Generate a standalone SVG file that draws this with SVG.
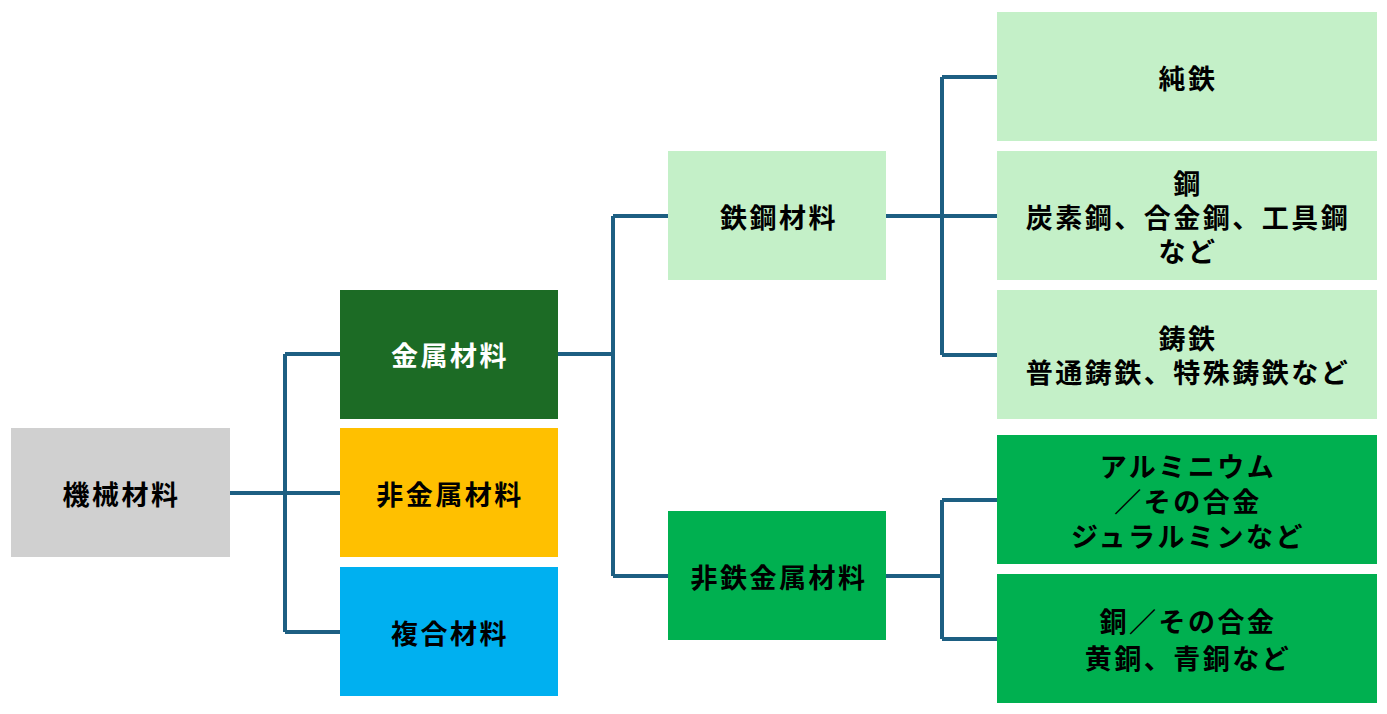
<svg xmlns="http://www.w3.org/2000/svg" width="1387" height="714" viewBox="0 0 1387 714">
<style>
text{font-family:"Noto Sans CJK JP","Noto Sans CJK SC",sans-serif;font-weight:bold;font-size:27px;text-anchor:middle;dominant-baseline:central;fill:#000;letter-spacing:2.5px}
.w{fill:#fff}
.c{fill:none;stroke:#1d5f82;stroke-width:4}
</style>
<rect width="1387" height="714" fill="#fff"/>
<g id="connectors">
<path class="c" d="M230 493H285M285 354V632M285 354H340M285 493H340M285 632H340"/>
<path class="c" d="M558 354H613M613 216V576M613 216H668M613 576H668"/>
<path class="c" d="M886 216H942M942 77V355M942 77H997M942 216H997M942 355H997"/>
<path class="c" d="M886 576H942M942 500V639M942 500H997M942 639H997"/>
</g>
<g id="kikai"><rect x="11" y="428" width="219" height="129" fill="#d0d0d0"/><text x="121.5" y="493">機械材料</text></g>
<g id="kinzoku"><rect x="340" y="290" width="218" height="129" fill="#1c6b25"/><text class="w" x="450" y="354">金属材料</text></g>
<g id="hikinzoku"><rect x="340" y="428" width="218" height="129" fill="#ffc000"/><text x="450" y="493">非金属材料</text></g>
<g id="fukugou"><rect x="340" y="567" width="218" height="129" fill="#00b0f0"/><text x="450" y="632">複合材料</text></g>
<g id="tekkou"><rect x="668" y="151" width="218" height="129" fill="#c4f0c8"/><text x="779" y="216">鉄鋼材料</text></g>
<g id="hitetsu"><rect x="668" y="511" width="218" height="129" fill="#00b050"/><text x="779" y="576">非鉄金属材料</text></g>
<g id="juntetsu"><rect x="997" y="12" width="380" height="129" fill="#c4f0c8"/><text x="1188" y="77">純鉄</text></g>
<g id="hagane"><rect x="997" y="151" width="380" height="129" fill="#c4f0c8"/><text x="1188" y="182">鋼</text><text x="1188" y="216">炭素鋼、合金鋼、工具鋼</text><text x="1188" y="250">など</text></g>
<g id="chutetsu"><rect x="997" y="290" width="380" height="129" fill="#c4f0c8"/><text x="1188" y="337">鋳鉄</text><text x="1188" y="371">普通鋳鉄、特殊鋳鉄など</text></g>
<g id="aluminium"><rect x="997" y="435" width="380" height="129" fill="#00b050"/><text x="1188" y="465">アルミニウム</text><text x="1188" y="500">／その合金</text><text x="1188" y="535">ジュラルミンなど</text></g>
<g id="dou"><rect x="997" y="574" width="380" height="129" fill="#00b050"/><text x="1188" y="620">銅／その合金</text><text x="1188" y="657">黄銅、青銅など</text></g>
</svg>
